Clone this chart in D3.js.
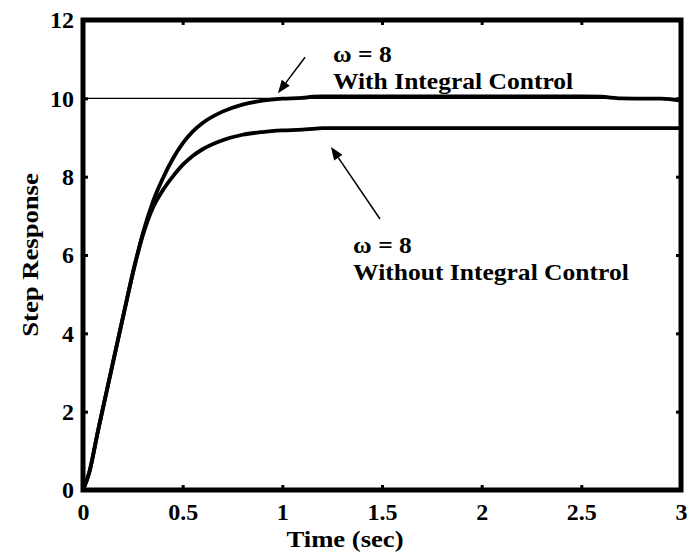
<!DOCTYPE html>
<html><head><meta charset="utf-8">
<script src="https://cdn.jsdelivr.net/npm/d3@7"></script>
<style>body{margin:0;background:#fff}svg{display:block}text{font-family:"Liberation Serif","Times New Roman",serif;font-weight:bold;fill:#000}</style>
</head><body>
<script>
const time = [0, 0.03, 0.076, 0.12, 0.2, 0.26, 0.3, 0.35, 0.4, 0.45, 0.5, 0.55, 0.6, 0.7, 0.8, 0.9, 1.0, 1.1, 1.15, 1.2, 1.5, 2.0, 2.5, 2.6, 2.7, 2.9, 3.0];
const withIntegral = [0, 0.42, 1.53, 2.55, 4.4, 5.75, 6.55, 7.35, 7.95, 8.45, 8.85, 9.15, 9.37, 9.66, 9.84, 9.94, 9.99, 10.01, 10.04, 10.05, 10.05, 10.05, 10.05, 10.04, 10.0, 9.99, 9.94];
const withoutIntegral = [0, 0.42, 1.53, 2.55, 4.4, 5.75, 6.5, 7.2, 7.65, 8.0, 8.3, 8.53, 8.7, 8.93, 9.07, 9.14, 9.18, 9.2, 9.22, 9.24, 9.24, 9.24, 9.24, 9.24, 9.24, 9.24, 9.24];
const xTicks = [0, 0.5, 1, 1.5, 2, 2.5, 3];
const xTickLabels = ["0", "0.5", "1", "1.5", "2", "2.5", "3"];
const yTicks = [0, 2, 4, 6, 8, 10, 12];
const referenceLevel = 10;
const xLabel = "Time (sec)";
const yLabel = "Step Response";
const annotations = [
  {lines: ["ω = 8", "With Integral Control"], tx: 1.254, ty: 10.93, from: [1.114, 11.05], to: [0.978, 10.13]},
  {lines: ["ω = 8", "Without Integral Control"], tx: 1.355, ty: 6.05, from: [1.49, 6.92], to: [1.244, 8.76]}
];

const W = 687, H = 552;
const m = {left: 83, right: 6, top: 20, bottom: 62};
const stretch = 1.11;
const svg = d3.select("body").append("svg").attr("width", W).attr("height", H);
const x = d3.scaleLinear().domain([0, 3]).range([m.left, W - m.right]);
const y = d3.scaleLinear().domain([0, 12]).range([H - m.bottom, m.top]);

function widen(sel) {
  sel.each(function () {
    const len = this.getComputedTextLength();
    d3.select(this).attr("textLength", len * stretch).attr("lengthAdjust", "spacingAndGlyphs");
  });
}

// reference line
svg.append("line").attr("x1", x(0)).attr("x2", x(3)).attr("y1", y(referenceLevel)).attr("y2", y(referenceLevel))
  .attr("stroke", "#000").attr("stroke-width", 1.3);

// curves
const line = d3.line().x(d => x(d[0])).y(d => y(d[1])).curve(d3.curveMonotoneX);
[withIntegral, withoutIntegral].forEach(s => {
  svg.append("path").datum(time.map((t, i) => [t, s[i]])).attr("d", line)
    .attr("fill", "none").attr("stroke", "#000").attr("stroke-width", 3.8).attr("stroke-linejoin", "round");
});

// axes
const fs = 24;
const ax = svg.append("g").attr("transform", `translate(0,${y(0)})`)
  .call(d3.axisBottom(x).tickValues(xTicks).tickFormat((d, i) => xTickLabels[i]).tickSize(-5).tickPadding(13));
const ay = svg.append("g").attr("transform", `translate(${x(0)},0)`)
  .call(d3.axisLeft(y).tickValues(yTicks).tickFormat(d3.format("d")).tickSize(-5).tickPadding(9));
const at = svg.append("g").attr("transform", `translate(0,${y(12)})`)
  .call(d3.axisTop(x).tickValues(xTicks).tickFormat("").tickSize(-5));
const ar = svg.append("g").attr("transform", `translate(${x(3)},0)`)
  .call(d3.axisRight(y).tickValues(yTicks).tickFormat("").tickSize(-5));
[ax, ay, at, ar].forEach(g => {
  g.select(".domain").remove();
  g.selectAll(".tick line").attr("stroke", "#000").attr("stroke-width", 3);
  g.selectAll(".tick text").attr("font-size", fs).attr("font-family", "Liberation Serif").attr("font-weight", "bold").attr("fill", "#000");
});
ax.selectAll(".tick text").attr("dy", "0.71em");

// frame
svg.append("rect").attr("x", x(0)).attr("y", y(12)).attr("width", x(3) - x(0)).attr("height", y(0) - y(12))
  .attr("fill", "none").attr("stroke", "#000").attr("stroke-width", 5);

// axis labels
svg.append("text").attr("x", 345).attr("y", 547).attr("text-anchor", "middle").attr("font-size", fs).text(xLabel).call(widen);
svg.append("text").attr("transform", `translate(38,${(y(0) + y(12)) / 2}) rotate(-90)`).attr("text-anchor", "middle").attr("font-size", fs).text(yLabel).call(widen);

// annotations
annotations.forEach(a => {
  const x1 = x(a.from[0]), y1 = y(a.from[1]), x2 = x(a.to[0]), y2 = y(a.to[1]);
  const ang = Math.atan2(y2 - y1, x2 - x1), L = 13, hw = 5;
  const bx = x2 - L * Math.cos(ang), by = y2 - L * Math.sin(ang);
  svg.append("line").attr("x1", x1).attr("y1", y1).attr("x2", bx).attr("y2", by).attr("stroke", "#000").attr("stroke-width", 1.5);
  svg.append("path").attr("d", `M${x2},${y2}L${bx + hw * Math.sin(ang)},${by - hw * Math.cos(ang)}L${bx - hw * Math.sin(ang)},${by + hw * Math.cos(ang)}Z`).attr("fill", "#000");
  a.lines.forEach((s, i) => {
    svg.append("text").attr("x", x(a.tx)).attr("y", y(a.ty) + i * 27).attr("font-size", fs - 1).text(s).call(widen);
  });
});
</script>
</body></html>
